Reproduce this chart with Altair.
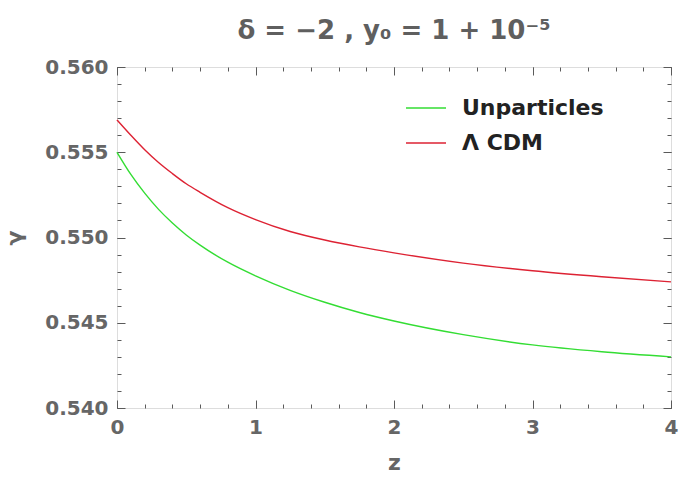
import altair as alt
import pandas as pd

z_vals = [0, 0.1, 0.2, 0.3, 0.4, 0.5, 0.6, 0.8, 1.0, 1.25, 1.5, 1.75, 2.0, 2.5, 3.0, 3.5, 4.0]
unparticles = [0.5550, 0.5537, 0.5526, 0.55165, 0.55085, 0.55015, 0.54955, 0.54855, 0.54775,
               0.5469, 0.5462, 0.5456, 0.5451, 0.5443, 0.5437, 0.5433, 0.5430]
lcdm = [0.5569, 0.5560, 0.55515, 0.5544, 0.55375, 0.55315, 0.55265, 0.55175, 0.55105,
        0.55035, 0.54985, 0.54945, 0.5491, 0.5485, 0.54805, 0.5477, 0.5474]
series_names = ["Unparticles", "Λ CDM"]
series_colors = ["#33dd33", "#dd2233"]
x_major = [0, 1, 2, 3, 4]
x_minor = [round(0.2 * i, 1) for i in range(21)]
y_major = [0.540, 0.545, 0.550, 0.555, 0.560]
y_minor = [round(0.540 + 0.001 * i, 3) for i in range(21)]

rows = []
for name, vals in zip(series_names, [unparticles, lcdm]):
    for zz, v in zip(z_vals, vals):
        rows.append({"z": zz, "gamma": v, "series": name})
df = pd.DataFrame(rows)

GRAY = "#5a5a5a"
LABEL = "#666666"
FONT = "DejaVu Sans"

xs = alt.Scale(domain=[0, 4], nice=False, zero=False)
ys = alt.Scale(domain=[0.540, 0.560], nice=False, zero=False)


def tick_axis(orient, values, size):
    return alt.Axis(orient=orient, values=values, labels=False, domain=False, grid=False,
                    tickSize=size, offset=-size, tickColor=GRAY, tickWidth=1, title=None)


base = alt.Chart(df)

main = base.mark_line(strokeWidth=1.4, interpolate="monotone").encode(
    x=alt.X("z:Q", scale=xs, axis=alt.Axis(
        orient="bottom", values=x_major, ticks=False, domain=False, grid=False,
        labelFlush=False,
        labelFontSize=20, labelFontWeight="bold", labelColor=LABEL, labelFont=FONT,
        labelPadding=9, title="z", titleFontSize=22, titleFontWeight="bold",
        titleColor=LABEL, titleFont=FONT, titlePadding=15)),
    y=alt.Y("gamma:Q", scale=ys, axis=alt.Axis(
        orient="left", values=y_major, format=".3f", ticks=False, domain=False, grid=False,
        labelFlush=False,
        labelFontSize=20, labelFontWeight="bold", labelColor=LABEL, labelFont=FONT,
        labelPadding=9, title="γ", titleFontSize=22, titleFontWeight="bold",
        titleColor=LABEL, titleFont=FONT, titlePadding=18)),
    color=alt.Color("series:N", scale=alt.Scale(domain=series_names, range=series_colors),
                    legend=alt.Legend(orient="none", legendX=288, legendY=20, title=None,
                                      symbolType="stroke", symbolSize=1600,
                                      symbolStrokeWidth=1.5, labelFontSize=22,
                                      labelFontWeight="bold", labelColor="#222222",
                                      labelFont=FONT, labelOffset=15,
                                      rowPadding=3)),
)


def ghost(xaxis, yaxis):
    return base.mark_line(opacity=0).encode(
        x=alt.X("z:Q", scale=xs, axis=xaxis),
        y=alt.Y("gamma:Q", scale=ys, axis=yaxis),
        detail="series:N",
    )


layers = [
    main,
    ghost(tick_axis("bottom", x_major, 8), tick_axis("left", y_major, 8)),
    ghost(tick_axis("bottom", x_minor, 4), tick_axis("left", y_minor, 4)),
    ghost(tick_axis("top", x_major, 8), tick_axis("right", y_major, 8)),
    ghost(tick_axis("top", x_minor, 4), tick_axis("right", y_minor, 4)),
]

chart = alt.layer(*layers).resolve_axis(x="independent", y="independent").properties(
    width=554, height=341,
    autosize=alt.AutoSizeParams(type="none"),
    padding={"left": 117, "top": 67, "right": 9, "bottom": 72},
    title=alt.TitleParams("δ = −2 , y₀ = 1 + 10⁻⁵", fontSize=26, fontWeight="bold",
                          color="#5f5f5f", font=FONT, anchor="middle", offset=13),
).configure_view(stroke=GRAY, strokeWidth=1.2).configure(background="white")

chart.save("out.html", embed_options={"renderer": "svg", "actions": False})
